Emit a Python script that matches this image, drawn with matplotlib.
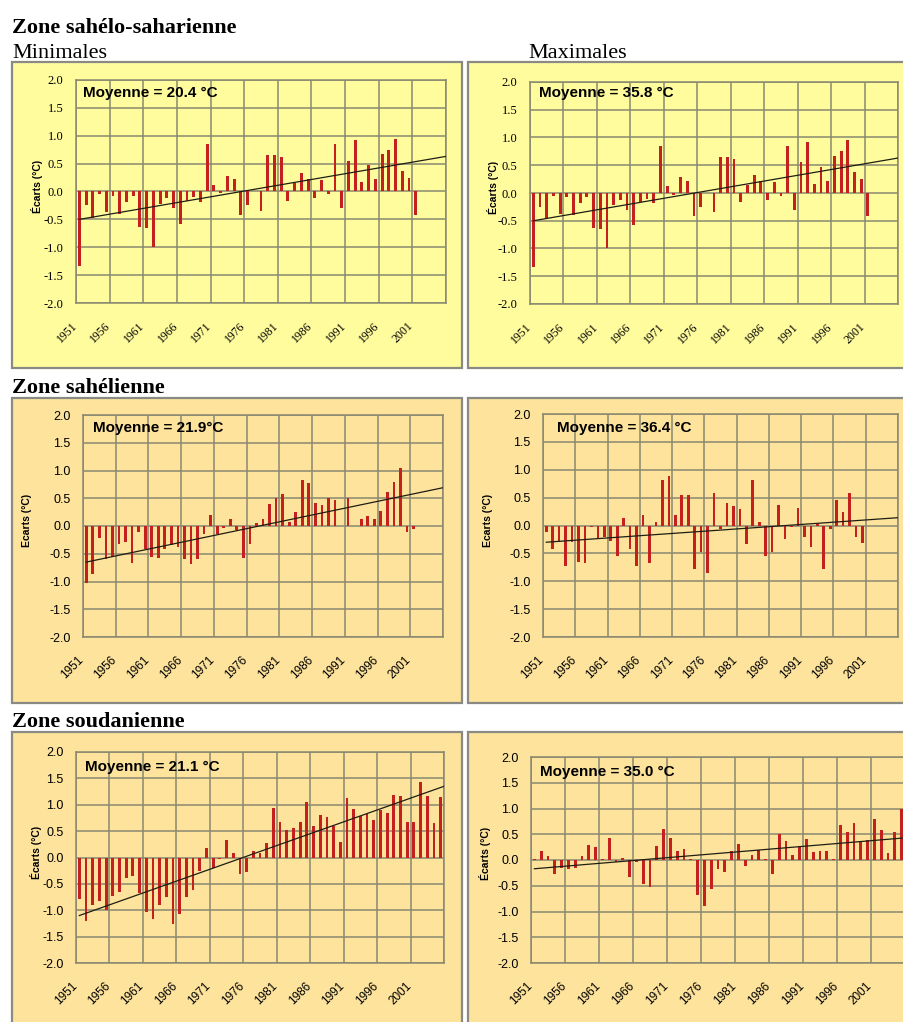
import numpy as np
import matplotlib
matplotlib.use("Agg")
import matplotlib.pyplot as plt
from matplotlib.patches import Rectangle

plt.rcParams["axes.unicode_minus"] = False

nan = np.nan

# ---- data: temperature anomalies (°C) relative to the 1951-2005 mean ----
years = list(range(1951, 2006))
tick_years = list(range(1951, 2002, 5))
y_ticks = [-2.0, -1.5, -1.0, -0.5, 0.0, 0.5, 1.0, 1.5, 2.0]

sahelo_min = [-1.33, -0.25, -0.47, -0.05, -0.37, -0.08, -0.40, -0.18, -0.08, -0.63,
              -0.65, -1.00, -0.22, -0.12, -0.30, -0.58, -0.17, -0.10, -0.18, 0.85,
              0.12, -0.03, 0.28, 0.22, -0.42, -0.25, nan, -0.35, 0.65, 0.65,
              0.62, -0.17, 0.15, 0.33, 0.22, -0.12, 0.20, -0.05, 0.85, -0.30,
              0.55, 0.92, 0.17, 0.47, 0.22, 0.67, 0.75, 0.95, 0.37, 0.25,
              -0.42]
sahelo_max = [-1.33, -0.25, -0.47, -0.05, -0.37, -0.08, -0.40, -0.18, -0.08, -0.63,
              -0.65, -1.00, -0.22, -0.12, -0.30, -0.58, -0.17, -0.10, -0.18, 0.85,
              0.12, -0.03, 0.28, 0.22, -0.42, -0.25, nan, -0.35, 0.65, 0.65,
              0.62, -0.17, 0.15, 0.33, 0.22, -0.12, 0.20, -0.05, 0.85, -0.30,
              0.55, 0.92, 0.17, 0.47, 0.22, 0.67, 0.75, 0.95, 0.37, 0.25,
              -0.42]
sahel_min = [-1.03, -0.87, -0.22, -0.60, -0.55, -0.32, -0.28, -0.67, -0.10, -0.42,
             -0.55, -0.58, -0.42, -0.35, -0.38, -0.60, -0.68, -0.60, -0.15, 0.20,
             -0.15, -0.03, 0.13, -0.08, -0.57, -0.33, 0.05, 0.13, 0.40, 0.50,
             0.58, 0.07, 0.25, 0.83, 0.78, 0.42, 0.38, 0.50, 0.47, nan,
             0.50, nan, 0.13, 0.18, 0.13, 0.27, 0.62, 0.80, 1.05, -0.10,
             -0.05]
sahel_max = [-0.12, -0.42, -0.30, -0.72, -0.30, -0.65, -0.67, -0.02, -0.25, -0.20,
             -0.27, -0.55, 0.13, -0.42, -0.72, 0.18, -0.67, 0.07, 0.82, 0.88,
             0.18, 0.55, 0.55, -0.78, -0.47, -0.85, 0.58, -0.07, 0.40, 0.35,
             0.30, -0.33, 0.82, 0.07, -0.55, -0.47, 0.37, -0.25, -0.03, 0.32,
             -0.20, -0.38, 0.03, -0.78, -0.07, 0.45, 0.25, 0.58, -0.20, -0.32]
soudan_min = [-0.78, -1.20, -0.90, -0.82, -1.00, -0.73, -0.65, -0.38, -0.35, -0.68,
              -1.03, -1.17, -0.90, -0.75, -1.27, -1.08, -0.75, -0.62, -0.25, 0.18,
              -0.20, -0.03, 0.33, 0.08, -0.32, -0.28, 0.12, 0.08, 0.28, 0.93,
              0.68, 0.53, 0.55, 0.68, 1.05, 0.60, 0.80, 0.77, 0.60, 0.30,
              1.12, 0.92, 0.78, 0.83, 0.72, 0.90, 0.85, 1.18, 1.17, 0.68,
              0.68, 1.43, 1.17, 0.65, 1.15]
soudan_max = [0.02, 0.18, 0.07, -0.27, -0.15, -0.17, -0.15, 0.08, 0.30, 0.25,
              0.01, 0.42, -0.03, 0.03, -0.33, -0.03, -0.47, -0.53, 0.27, 0.60,
              0.43, 0.17, 0.22, 0.01, -0.68, -0.90, -0.57, -0.17, -0.23, 0.18,
              0.32, -0.12, 0.10, 0.20, 0.01, -0.28, 0.50, 0.37, 0.10, 0.28,
              0.40, 0.15, 0.18, 0.17, 0.01, 0.67, 0.55, 0.72, 0.37, 0.38,
              0.80, 0.58, 0.13, 0.55, 1.00]

# linear trend: value at 1951 and at the right end of the axis
trend_ends = {
    "sahelo_min": (-0.50, 0.63),
    "sahelo_max": (-0.50, 0.63),
    "sahel_min": (-0.65, 0.69),
    "sahel_max": (-0.30, 0.14),
    "soudan_min": (-1.10, 1.35),
    "soudan_max": (-0.17, 0.43),
}
means = {
    "sahelo_min": "Moyenne = 20.4 °C",
    "sahelo_max": "Moyenne = 35.8 °C",
    "sahel_min": "Moyenne = 21.9°C",
    "sahel_max": "Moyenne = 36.4 °C",
    "soudan_min": "Moyenne = 21.1 °C",
    "soudan_max": "Moyenne = 35.0 °C",
}

# ---- figure layout (pixel geometry) ----
W, H = 904, 1022
fig = plt.figure(figsize=(W / 100, H / 100), dpi=100)
fig.patch.set_facecolor("white")

YELLOW = "#fffc9e"
PEACH = "#fde39b"
BAR = "#c3201e"
GRID = "#8a8870"
SERIF = "Liberation Serif"
SANS = "Liberation Sans"


def box(l, t, r, b, color):
    fig.patches.append(Rectangle((l / W, 1 - b / H), (r - l) / W, (b - t) / H,
                                 transform=fig.transFigure, facecolor=color,
                                 edgecolor="#8a8a84", lw=1.6, zorder=-5))


def ftext(x, y, s, **kw):
    fig.text(x / W, 1 - y / H, s, **kw)


def panel(key, values, area, mean_xy, ylab_xy, ylab, tickfont):
    l, t, r, b = area
    ax = fig.add_axes([l / W, 1 - b / H, (r - l) / W, (b - t) / H])
    ax.set_facecolor("none")
    x = np.arange(len(values))
    ax.bar(x, values, width=0.42, color=BAR, zorder=3)
    y0, y1 = trend_ends[key]
    ax.plot([0, len(years) - 0.5], [y0, y1], color="#1e1e14", lw=0.9, zorder=4)
    ax.set_xlim(-0.5, len(years) - 0.5)
    ax.set_ylim(-2.0, 2.0)
    ax.set_yticks(y_ticks)
    ax.set_yticklabels([f"{v:.1f}" for v in y_ticks], family=tickfont, fontsize=9)
    tpos = [years.index(yr) for yr in tick_years]
    ax.set_xticks(tpos)
    ax.set_xticklabels([str(yr) for yr in tick_years], rotation=45, ha="right",
                       family=tickfont, fontsize=8.5)
    ax.set_xticks(np.arange(-0.5, len(years), 5), minor=True)
    ax.tick_params(axis="both", which="both", length=0)
    ax.tick_params(axis="x", which="major", pad=12)
    ax.tick_params(axis="y", pad=9)
    ax.grid(axis="y", which="major", color=GRID, lw=1.1)
    ax.grid(axis="x", which="minor", color=GRID, lw=1.1)
    ax.set_axisbelow(True)
    for sp in ax.spines.values():
        sp.set_color(GRID)
        sp.set_linewidth(1.1)
    ftext(mean_xy[0], mean_xy[1], means[key], fontsize=11, fontweight="bold",
          family=SANS, ha="left", va="center")
    ftext(ylab_xy[0], ylab_xy[1], ylab, fontsize=7.5, fontweight="bold",
          family=SANS, rotation=90, ha="center", va="center")
    return ax


# panel frames
box(12, 62, 462, 368, YELLOW)
box(468, 62, 910, 368, YELLOW)
box(12, 398, 462, 703, PEACH)
box(468, 398, 910, 703, PEACH)
box(12, 732, 462, 1030, PEACH)
box(468, 732, 910, 1030, PEACH)

# headings (baseline-anchored)
ftext(12, 33, "Zone sahélo-saharienne", fontsize=16, fontweight="bold",
      family=SERIF, ha="left", va="baseline")
ftext(12, 58, "Minimales", fontsize=16, family=SERIF, ha="left", va="baseline")
ftext(528, 58, "Maximales", fontsize=16, family=SERIF, ha="left", va="baseline")
ftext(12, 393, "Zone sahélienne", fontsize=16, fontweight="bold",
      family=SERIF, ha="left", va="baseline")
ftext(12, 727, "Zone soudanienne", fontsize=16, fontweight="bold",
      family=SERIF, ha="left", va="baseline")

panel("sahelo_min", sahelo_min, (76, 80, 446, 303), (83, 93), (37, 186),
      "Écarts (°C)", SERIF)
panel("sahelo_max", sahelo_max, (530, 82, 898, 304), (539, 93), (493, 187),
      "Écarts (°C)", SERIF)
panel("sahel_min", sahel_min, (83, 415, 443, 637), (93, 428), (27, 520),
      "Ecarts (°C)", SANS)
panel("sahel_max", sahel_max, (543, 414, 898, 637), (557, 428), (488, 520),
      "Ecarts (°C)", SANS)
panel("soudan_min", soudan_min, (76, 752, 444, 963), (85, 767), (36, 852),
      "Écarts (°C)", SANS)
panel("soudan_max", soudan_max, (531, 757, 905, 963), (540, 772), (485, 853),
      "Écarts (°C)", SANS)

fig.savefig("out.png", dpi=100, facecolor="white")
